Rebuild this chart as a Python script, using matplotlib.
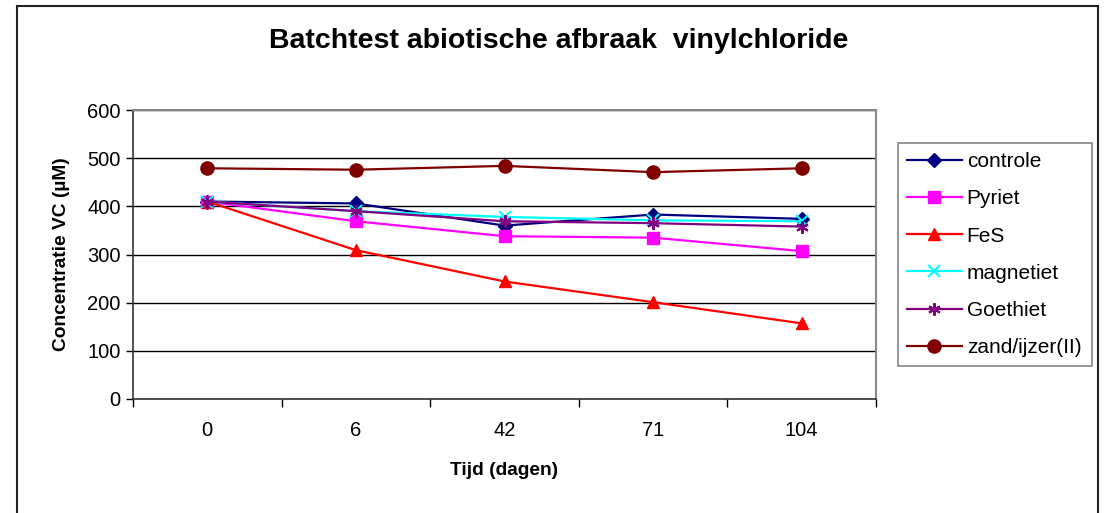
import matplotlib
matplotlib.use("Agg")
import matplotlib.pyplot as plt
from matplotlib.patches import Rectangle

plt.rcParams['font.family'] = ['Liberation Sans', 'DejaVu Sans']

# tijd (dagen) als categorieen
dagen = ['0', '6', '42', '71', '104']

controle = [410, 406, 360, 383, 374]
pyriet = [410, 369, 338, 335, 307]
fes = [410, 309, 244, 201, 157]
magnetiet = [410, 390, 378, 371, 369]
goethiet = [410, 390, 369, 365, 358]
zand_ijzer = [479, 476, 484, 471, 479]

reeksen = [
    ('controle', controle, '#000080', 'D', 7.5),
    ('Pyriet', pyriet, '#FF00FF', 's', 8.5),
    ('FeS', fes, '#FF0000', '^', 9),
    ('magnetiet', magnetiet, '#00FFFF', 'x', 8),
    ('Goethiet', goethiet, '#800080', (6, 2, 0), 9),
    ('zand/ijzer(II)', zand_ijzer, '#800000', 'o', 9.5),
]

W, H = 1106, 513
fig = plt.figure(figsize=(W / 100, H / 100), dpi=100)
ax = fig.add_axes([133 / W, 1 - 399 / H, (876 - 133) / W, (399 - 110) / H])

x = list(range(len(dagen)))
for naam, waarden, kleur, marker, ms in reeksen:
    mew = 1.5 if marker in ('x', (6, 2, 0)) else 1
    ax.plot(x, waarden, color=kleur, lw=1.6, marker=marker, markersize=ms,
            markeredgewidth=mew, label=naam, clip_on=False, zorder=3)

ax.set_xlim(-0.5, len(dagen) - 0.5)
ax.set_ylim(0, 600)
ax.set_yticks(range(0, 601, 100))
ax.set_xticks(x)
ax.set_xticklabels(dagen)
ax.set_xticks([i - 0.5 for i in range(len(dagen) + 1)], minor=True)
ax.tick_params(axis='x', which='major', length=0, labelsize=14.5, pad=16)
ax.tick_params(axis='x', which='minor', length=6, width=1, color='black')
ax.tick_params(axis='y', length=5, width=1, labelsize=14.5, pad=4)
ax.yaxis.grid(True, color='black', lw=1)
ax.set_axisbelow(True)

for kant in ('left', 'bottom'):
    ax.spines[kant].set_color('#333333')
    ax.spines[kant].set_linewidth(1.2)
for kant in ('top', 'right'):
    ax.spines[kant].set_color('#888888')
    ax.spines[kant].set_linewidth(1.5)

ax.set_xlabel('Tijd (dagen)', fontsize=13.8, fontweight='bold', labelpad=16)
ax.set_ylabel('Concentratie VC (µM)', fontsize=13.8, fontweight='bold', labelpad=12)

fig.text(559 / W, 1 - 41 / H, 'Batchtest abiotische afbraak  vinylchloride',
         ha='center', va='center', fontsize=20.5, fontweight='bold')

leg = fig.legend(loc='upper left',
                 bbox_to_anchor=(898 / W, 1 - 366 / H, 194 / W, 223 / H),
                 mode='expand', fontsize=15, frameon=True, fancybox=False,
                 borderaxespad=0, labelspacing=0.87, handlelength=2.6,
                 handletextpad=0.25, borderpad=0.45)
leg.get_frame().set_edgecolor('#666666')
leg.get_frame().set_linewidth(1.2)

# rand om het hele grafiekgebied
fig.patches.append(Rectangle((17 / W, -0.05), (1098 - 17) / W, 1.05 - 6 / H,
                             transform=fig.transFigure, fill=False,
                             edgecolor='#222222', lw=1.5))

fig.savefig('out.png', dpi=100)
